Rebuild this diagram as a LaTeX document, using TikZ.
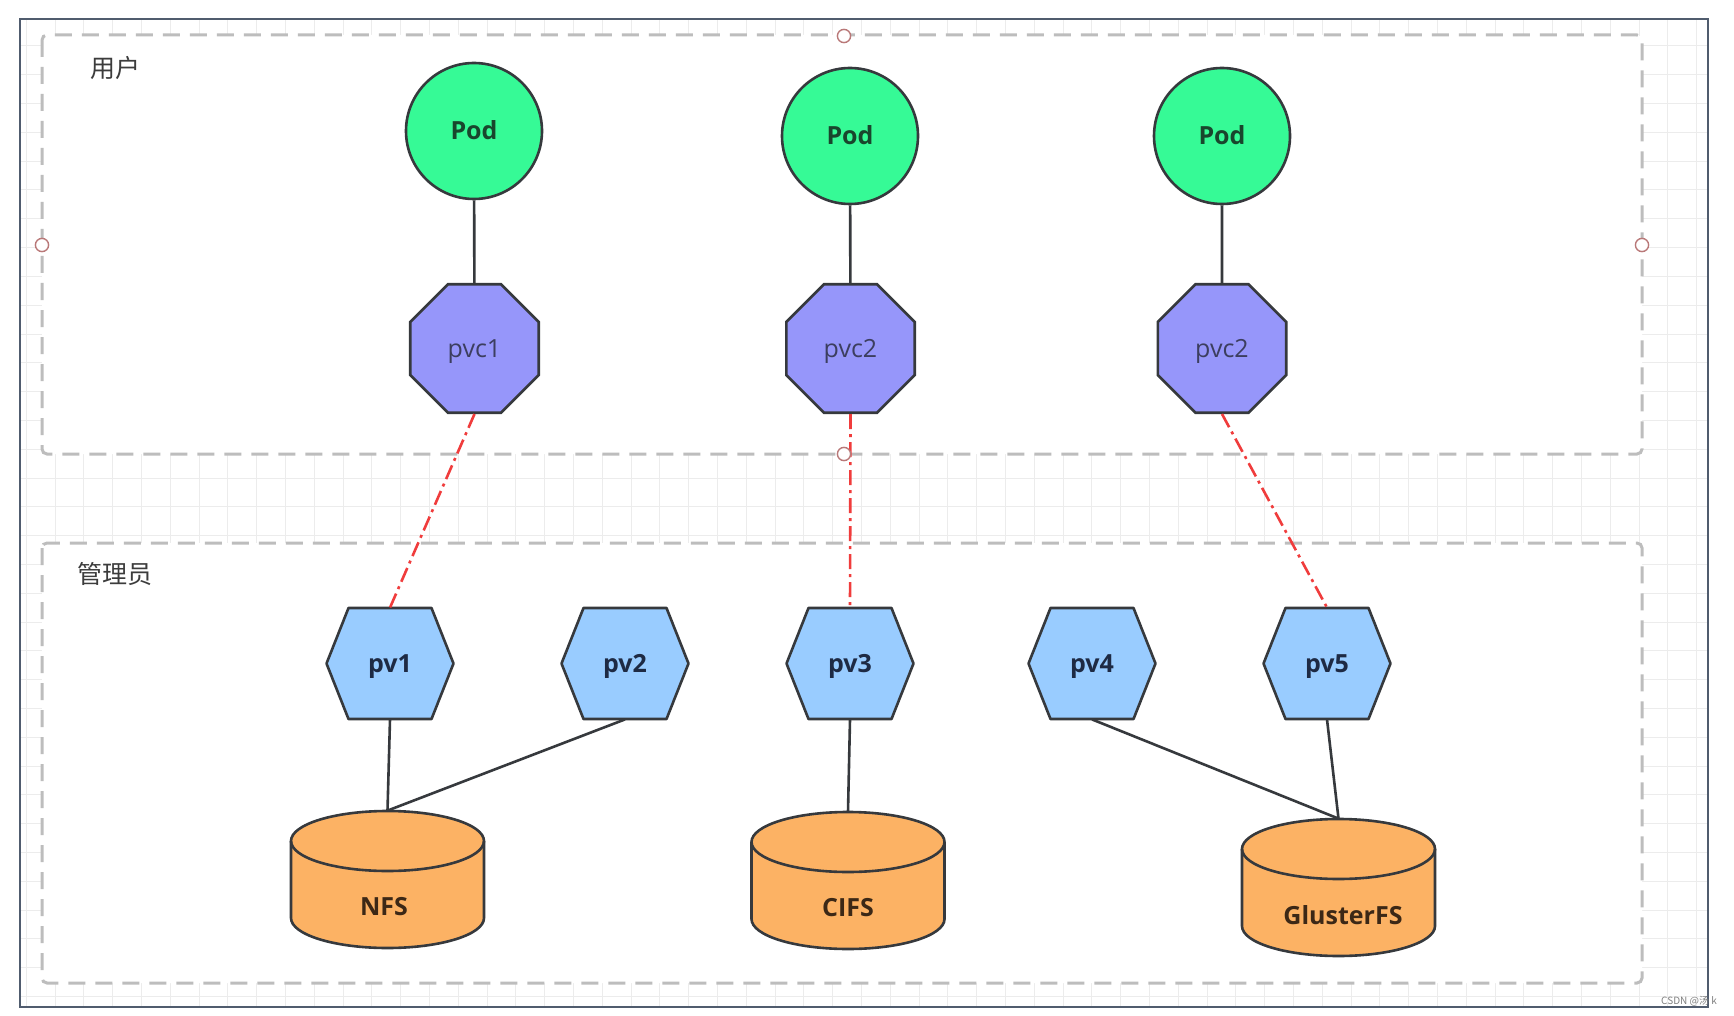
\documentclass[tikz,border=0pt]{standalone}
\usepackage{fontspec}
\setmainfont{Open Sans}
\newfontfamily\cjk{Noto Sans CJK SC}
\usepackage{xcolor}
\definecolor{podgreen}{RGB}{54, 250, 150}
\definecolor{podtext}{RGB}{25, 70, 45}
\definecolor{claimblue}{RGB}{150, 150, 250}
\definecolor{claimtext}{RGB}{60, 62, 95}
\definecolor{volblue}{RGB}{153, 204, 255}
\definecolor{voltext}{RGB}{30, 42, 68}
\definecolor{storeorange}{RGB}{252, 178, 100}
\definecolor{storeink}{RGB}{60, 40, 22}
\definecolor{edge}{RGB}{54, 57, 61}
\definecolor{bindred}{RGB}{240, 60, 60}
\definecolor{groupgray}{RGB}{189, 189, 189}
\definecolor{gridgray}{RGB}{236, 236, 236}
\definecolor{handlered}{RGB}{185, 120, 120}
\definecolor{framedark}{RGB}{80, 92, 110}
\definecolor{labelgray}{RGB}{60, 60, 60}
\usepackage{tikz}
\usetikzlibrary{shapes.geometric}
\tikzstyle{pod} = [circle, draw=edge, line width=1.3pt, fill=podgreen, minimum size=68pt, inner sep=0pt, font=\fontsize{12.5}{15}\selectfont\bfseries, text=podtext, text height=8.9pt, text depth=0pt]
\tikzstyle{claim} = [regular polygon, regular polygon sides=8, draw=edge, line width=1.3pt, fill=claimblue, minimum size=69.5pt, inner sep=0pt, font=\fontsize{12.5}{15}\selectfont, text=claimtext, text height=8.9pt, text depth=0pt]
\tikzstyle{volume} = [draw=edge, line width=1.3pt, fill=volblue, line join=round]
\tikzstyle{volbox} = [rectangle, minimum width=63.5pt, minimum height=55.5pt, inner sep=0pt, font=\fontsize{12.5}{15}\selectfont\bfseries, text=voltext, text height=8.9pt, text depth=0pt]
\tikzstyle{store} = [draw=edge, line width=1.3pt, fill=storeorange]
\tikzstyle{storebox} = [rectangle, minimum width=96.5pt, minimum height=68.5pt, inner sep=0pt]
\tikzstyle{storetext} = [inner sep=0pt, font=\fontsize{12.5}{15}\selectfont\bfseries, text=storeink]
\tikzstyle{link} = [draw=edge, line width=1.3pt]
\tikzstyle{bind} = [draw=bindred, line width=1.3pt, dash pattern=on 7.5pt off 2.5pt on 1.5pt off 2.5pt]
\tikzstyle{group} = [draw=groupgray, line width=1.5pt, dash pattern=on 8.5pt off 5pt, fill=white, rounded corners=2.5pt]
\tikzstyle{grouplabel} = [inner sep=0pt, font=\cjk\fontsize{12.5}{15}\selectfont, text=labelgray]
\tikzstyle{handle} = [draw=handlered, line width=0.7pt, fill=white]
\tikzstyle{gridline} = [draw=gridgray, line width=0.5pt]

% hexagon for a PV: name, centre, label
\newcommand{\pvhex}[3]{%
  \draw[volume, shift={(#2)}] (-63.5,0) -- (-41.5,-55.5) -- (41.5,-55.5) -- (63.5,0) -- (41.5,55.5) -- (-41.5,55.5) -- cycle;
  \node[volbox] (#1) at (#2) {#3};
}
% storage cylinder: name, centre x, top y, label, label x
\newcommand{\dbcyl}[5]{%
  \draw[store, shift={(#2,#3)}] (-96.5,30) -- (-96.5,107)
    arc[start angle=180, end angle=360, x radius=48.25pt, y radius=15pt] -- (96.5,30)
    arc[start angle=0, end angle=180, x radius=48.25pt, y radius=15pt] -- cycle;
  \draw[store, fill=none, shift={(#2,#3)}] (-96.5,30)
    arc[start angle=180, end angle=360, x radius=48.25pt, y radius=15pt];
  \node[storebox] (#1) at (#2,#3+68.5) {};
  \node[storetext] (#1-text) at (#5,#3+96) {#4};
}

\begin{document}
\begin{tikzpicture}[x=0.5pt, y=-0.5pt]
    \useasboundingbox[fill=white] (0,0) rectangle (1734,1016);

    % canvas grid and frame
    \foreach \gx in {0,...,58}
        \draw[gridline] ({26.2+28.8*\gx},20) -- ({26.2+28.8*\gx},1006);
    \foreach \gy in {0,...,33}
        \draw[gridline] (21,{46+28.8*\gy}) -- (1707,{46+28.8*\gy});
    \draw[draw=framedark, line width=0.9pt] (20,19) rectangle (1708,1007);

    % the two groups
    \draw[group] (42,35) rectangle (1642,454);
    \draw[group] (42,543) rectangle (1642,983);
    \node[grouplabel] (user) at (115,68.5) {用户};
    \node[grouplabel] (admin) at (115,574) {管理员};

    % user side
    \node[pod] (pod1) at (474,131) {Pod};
    \node[pod] (pod2) at (850,136) {Pod};
    \node[pod] (pod3) at (1222,136) {Pod};
    \node[claim] (pvc1) at (474.5,348.5) {pvc1};
    \node[claim] (pvc2) at (850.5,348.5) {pvc2};
    \node[claim] (pvc3) at (1222,348.5) {pvc2};

    % admin side
    \pvhex{pv1}{390,663.5}{pv1}
    \pvhex{pv2}{625,663.5}{pv2}
    \pvhex{pv3}{850,663.5}{pv3}
    \pvhex{pv4}{1092,663.5}{pv4}
    \pvhex{pv5}{1327,663.5}{pv5}
    \dbcyl{nfs}{387.5}{811}{NFS}{384}
    \dbcyl{cifs}{848}{812}{CIFS}{848}
    \dbcyl{gfs}{1338.5}{819}{GlusterFS}{1343}

    \draw[link] (pod1) -- (pvc1);
    \draw[link] (pod2) -- (pvc2);
    \draw[link] (pod3) -- (pvc3);
    \draw[bind] (pvc1.south) -- (pv1.north);
    \draw[bind] (pvc2.south) -- (pv3.north);
    \draw[bind] (pvc3.south) -- (pv5.north);
    \draw[link] (pv1.south) -- (nfs.north);
    \draw[link] (pv2.south) -- (nfs.north);
    \draw[link] (pv3.south) -- (cifs.north);
    \draw[link] (pv4.south) -- (gfs.north);
    \draw[link] (pv5.south) -- (gfs.north);

    % selection handles
    \foreach \hx/\hy in {844/36, 42/245, 1642/245, 844/454}
        \draw[handle] (\hx,\hy) circle[radius=3.3pt];

    \node[inner sep=0pt, font=\cjk\fontsize{5}{6}\selectfont, text=gray] (mark) at (1689,1001) {CSDN @汤 k};
\end{tikzpicture}
\end{document}
